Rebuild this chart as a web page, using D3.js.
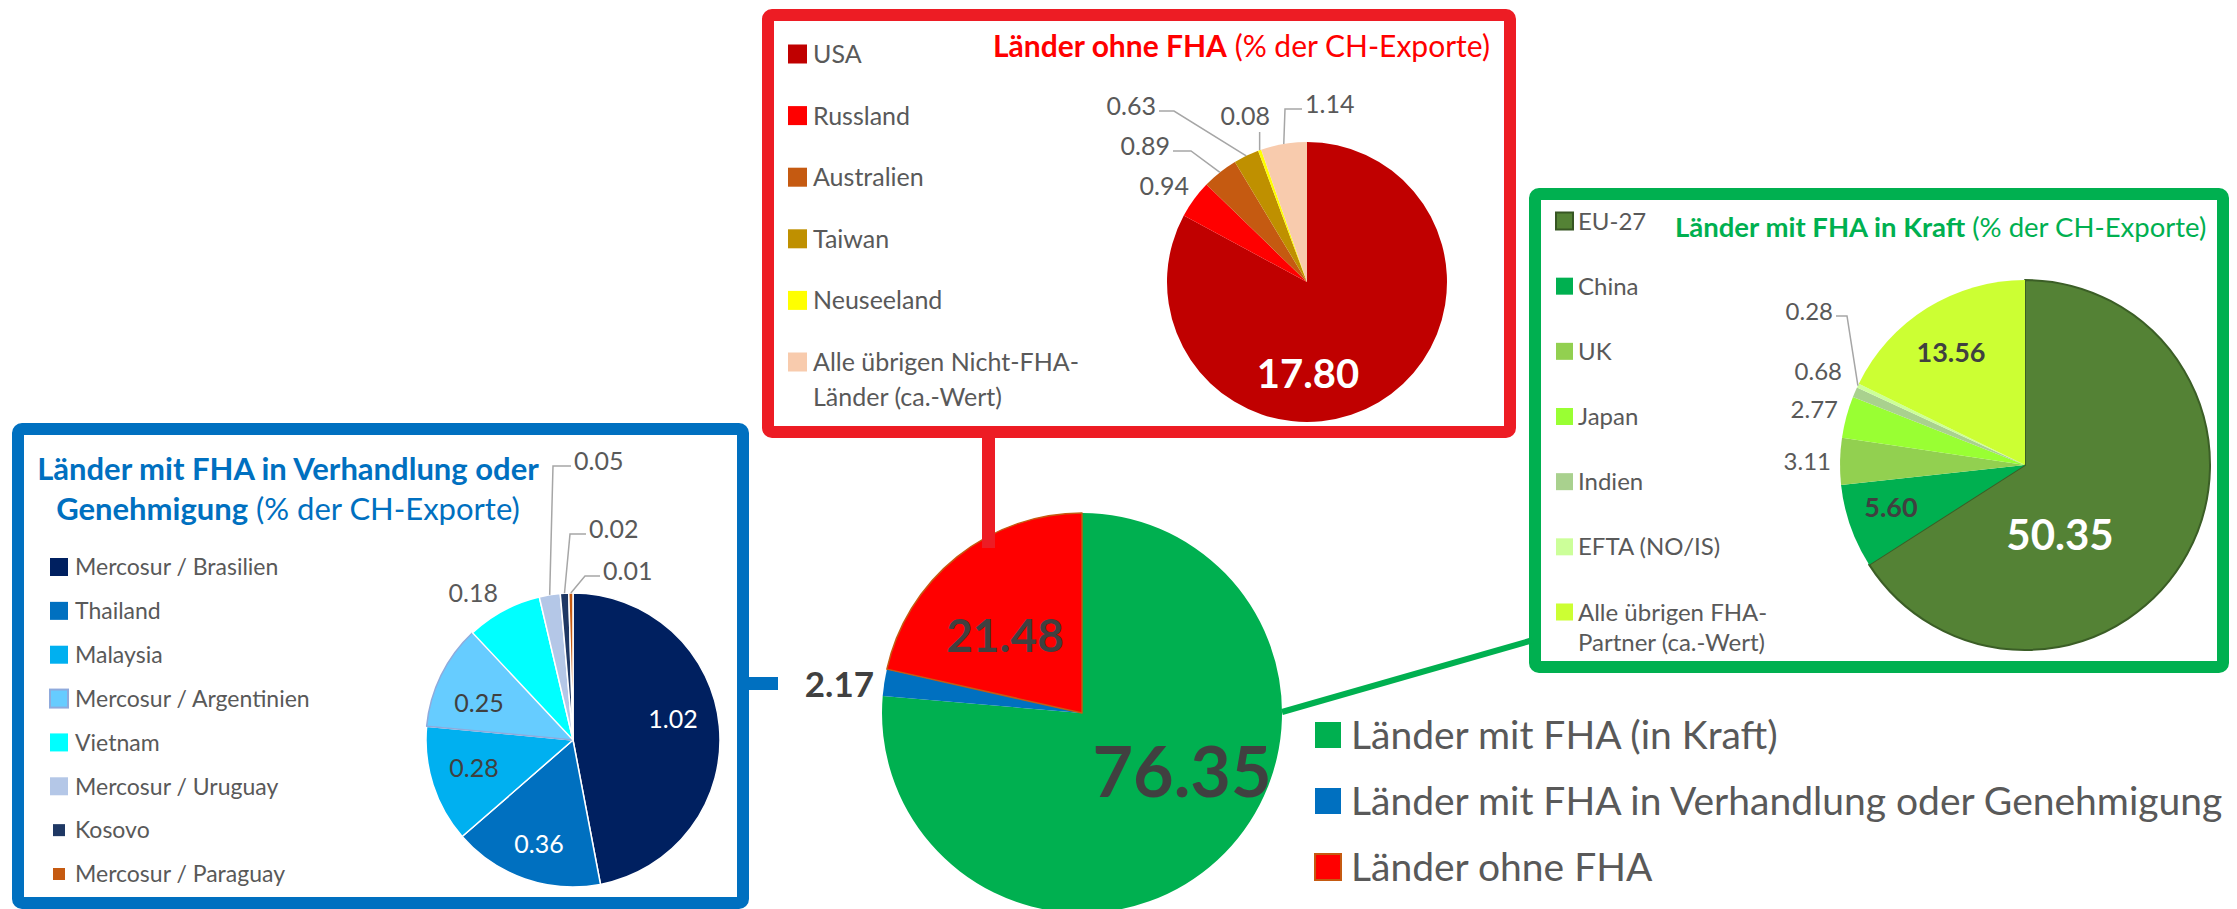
<!DOCTYPE html>
<html>
<head>
<meta charset="utf-8">
<script src="https://cdn.jsdelivr.net/npm/d3@7"></script>
<style>
  html, body { margin: 0; padding: 0; background: #fff; }
  svg { display: block; font-family: Lato, "Open Sans", sans-serif; }
</style>
</head>
<body>
<svg id="chart" width="2237" height="909"></svg>
<script>
// ---- data ----
var mainCats = ["Länder mit FHA (in Kraft)", "Länder mit FHA in Verhandlung oder Genehmigung", "Länder ohne FHA"];
var mainVals = [76.35, 2.17, 21.48];
var mainColors = ["#00B050", "#0070C0", "#FF0000"];

var ohneCats = ["USA", "Russland", "Australien", "Taiwan", "Neuseeland", "Alle übrigen Nicht-FHA-\nLänder (ca.-Wert)"];
var ohneVals = [17.80, 0.94, 0.89, 0.63, 0.08, 1.14];
var ohneColors = ["#C00000", "#FF0000", "#C55A11", "#BF9000", "#FFFF00", "#F8CBAD"];

var kraftCats = ["EU-27", "China", "UK", "Japan", "Indien", "EFTA (NO/IS)", "Alle übrigen FHA-\nPartner (ca.-Wert)"];
var kraftVals = [50.35, 5.60, 3.11, 2.77, 0.68, 0.28, 13.56];
var kraftColors = ["#548235", "#00B050", "#92D050", "#99FF33", "#A9D18E", "#CCFF99", "#CCFF33"];

var verhCats = ["Mercosur / Brasilien", "Thailand", "Malaysia", "Mercosur / Argentinien", "Vietnam", "Mercosur / Uruguay", "Kosovo", "Mercosur / Paraguay"];
var verhVals = [1.02, 0.36, 0.28, 0.25, 0.18, 0.05, 0.02, 0.01];
var verhColors = ["#002060", "#0070C0", "#00B0F0", "#66CCFF", "#00FFFF", "#B4C7E7", "#1F3864", "#C55A11"];

var svg = d3.select("#chart");
var fmt = d3.format(".2f");
var grey = "#595959", dark = "#404040";

svg.append("rect").attr("width", 2237).attr("height", 909).attr("fill", "#fff");

// ---- boxes ----
function box(x, y, w, h, col) {
    svg.append("rect").attr("x", x).attr("y", y).attr("width", w).attr("height", h)
        .attr("rx", 4).attr("fill", "#fff").attr("stroke", col).attr("stroke-width", 12);
}
box(768, 15, 742, 417, "#ED1C24");
box(1535, 194, 688, 473, "#00B050");
box(18, 429, 725, 474, "#0070C0");

// ---- pie helper ----
function drawPie(cfg) {
    var g = svg.append("g");
    var arcs = d3.pie().sort(null).value(function (d) { return d; })(cfg.values);
    var arc = d3.arc().innerRadius(0).outerRadius(cfg.r);
    g.selectAll("path").data(arcs).enter().append("path")
        .attr("transform", "translate(" + cfg.cx + "," + cfg.cy + ")")
        .attr("d", arc)
        .attr("fill", function (d, i) { return cfg.colors[i]; })
        .attr("stroke", function (d, i) { return (cfg.strokes && cfg.strokes[i]) || "none"; })
        .attr("stroke-width", cfg.strokeWidth || 1.5)
        .attr("stroke-linejoin", "round");

    arcs.forEach(function (a, i) {
        var s = cfg.labels[i];
        if (!s) return;
        var col = s.cls === "white" ? "#fff" : (s.cls === "dark" ? dark : grey);
        var t = g.append("text")
            .attr("x", cfg.cx + s.dx).attr("y", cfg.cy + s.dy)
            .attr("text-anchor", s.anchor || "middle")
            .attr("font-size", s.size || cfg.labelSize)
            .attr("font-weight", s.bold ? 700 : 400)
            .attr("fill", col)
            .text(fmt(a.data));
        if (!s.leader) return;
        // leader line from the label to the middle of the slice's outer edge
        var mid = (a.startAngle + a.endAngle) / 2;
        var px = cfg.cx + cfg.r * Math.sin(mid), py = cfg.cy - cfg.r * Math.cos(mid);
        var bb = t.node().getBBox();
        var pts;
        if (s.leader === "h") {
            var ly = cfg.cy + s.dy - 4;
            var sx = s.anchor === "end" ? bb.x + bb.width + 3 : bb.x - 3;
            pts = [[sx, ly], [cfg.cx + s.elbow, ly], [px, py]];
        } else {
            pts = [[px, bb.y + bb.height + 2], [px, py]];
        }
        g.append("path").attr("d", d3.line()(pts))
            .attr("fill", "none").attr("stroke", "#A6A6A6").attr("stroke-width", 1.5);
    });
}

// ---- legend helper ----
function drawLegend(cfg) {
    var y = d3.scalePoint().domain(cfg.cats).range(cfg.range);
    var g = svg.append("g");
    cfg.cats.forEach(function (c, i) {
        var sq = (cfg.sqSizes && cfg.sqSizes[i]) || cfg.sq;
        var cy = y(c);
        g.append("rect")
            .attr("x", cfg.x + (cfg.sq - sq) / 2).attr("y", cy - sq / 2)
            .attr("width", sq).attr("height", sq)
            .attr("fill", cfg.colors[i])
            .attr("stroke", (cfg.strokes && cfg.strokes[i]) || "none")
            .attr("stroke-width", 2);
        var lines = c.split("\n");
        var t = g.append("text").attr("x", cfg.x + cfg.sq + cfg.gap)
            .attr("y", cy + cfg.font * 0.36)
            .attr("font-size", cfg.font).attr("fill", grey);
        lines.forEach(function (l, k) {
            t.append("tspan").attr("x", cfg.x + cfg.sq + cfg.gap)
                .attr("dy", k ? cfg.lineGap : 0).text(l);
        });
    });
}

// ---- titles ----
function title(x, y, size, col, anchor, parts) {
    var t = svg.append("text").attr("x", x).attr("y", y).attr("font-size", size)
        .attr("fill", col).attr("text-anchor", anchor);
    parts.forEach(function (p) {
        t.append("tspan").attr("font-weight", p[1] ? 700 : 400).text(p[0]);
    });
}
title(993, 57, 30, "#FF0000", "start", [["Länder ohne FHA", 1], [" (% der CH-Exporte)", 0]]);
title(1675, 237, 27.5, "#00B050", "start", [["Länder mit FHA in Kraft", 1], [" (% der CH-Exporte)", 0]]);
title(288, 480, 31, "#0070C0", "middle", [["Länder mit FHA in Verhandlung oder", 1]]);
title(288, 520, 31, "#0070C0", "middle", [["Genehmigung", 1], [" (% der CH-Exporte)", 0]]);

// ---- main pie ----
drawPie({
    cx: 1082, cy: 713, r: 200, values: mainVals, colors: mainColors,
    strokes: [null, null, "#C55A11"], labelSize: 35,
    labels: [
        {dx: 100, dy: 84, size: 70, bold: 1, cls: "dark"},
        {dx: -208, dy: -16, anchor: "end", size: 35, bold: 1, cls: "dark"},
        {dx: -77, dy: -61, size: 46, bold: 1, cls: "dark"}
    ]
});

// ---- connectors ----
svg.append("line").attr("x1", 743).attr("y1", 683.5).attr("x2", 778).attr("y2", 683.5)
    .attr("stroke", "#0070C0").attr("stroke-width", 13);
svg.append("line").attr("x1", 988.5).attr("y1", 432).attr("x2", 988.5).attr("y2", 548)
    .attr("stroke", "#ED1C24").attr("stroke-width", 13);
svg.append("line").attr("x1", 1282).attr("y1", 712).attr("x2", 1533).attr("y2", 640)
    .attr("stroke", "#00B050").attr("stroke-width", 6);

// ---- sub pies ----
drawPie({
    cx: 1307, cy: 282, r: 140, values: ohneVals, colors: ohneColors, labelSize: 25,
    labels: [
        {dx: 1, dy: 106, size: 40, bold: 1, cls: "white"},
        {dx: -118, dy: -87, anchor: "end"},
        {dx: -137, dy: -127, anchor: "end", leader: "h", elbow: -116},
        {dx: -151, dy: -167, anchor: "end", leader: "h", elbow: -133},
        {dx: -37, dy: -157, anchor: "end", leader: "v"},
        {dx: -2, dy: -169, anchor: "start", leader: "h", elbow: -22}
    ]
});

drawPie({
    cx: 2025, cy: 465, r: 185, values: kraftVals, colors: kraftColors, labelSize: 24,
    strokes: ["#3B5E26"], strokeWidth: 2,
    labels: [
        {dx: 35, dy: 85, size: 42, bold: 1, cls: "white"},
        {dx: -134, dy: 52, size: 27, bold: 1, cls: "dark"},
        {dx: -194, dy: 5, anchor: "end"},
        {dx: -187, dy: -47, anchor: "end"},
        {dx: -183, dy: -85, anchor: "end"},
        {dx: -192, dy: -145, anchor: "end", leader: "h", elbow: -178},
        {dx: -74, dy: -103, size: 27, bold: 1, cls: "dark"}
    ]
});

drawPie({
    cx: 573, cy: 740, r: 147, values: verhVals, colors: verhColors, labelSize: 25,
    strokes: ["#fff", "#fff", "#fff", "#8FAADC", "#fff", "#fff", "#fff", "#fff"],
    labels: [
        {dx: 100, dy: -12, cls: "white"},
        {dx: -34, dy: 113, cls: "white"},
        {dx: -99, dy: 37, cls: "dark"},
        {dx: -94, dy: -28, cls: "dark"},
        {dx: -75, dy: -138, anchor: "end"},
        {dx: 1, dy: -270, anchor: "start", leader: "h", elbow: -20},
        {dx: 16, dy: -202, anchor: "start", leader: "h", elbow: -3},
        {dx: 30, dy: -160, anchor: "start", leader: "h", elbow: 12}
    ]
});

// ---- legends ----
drawLegend({cats: ohneCats, colors: ohneColors, x: 788, range: [54, 362], sq: 19, gap: 6, font: 25, lineGap: 35});
drawLegend({cats: kraftCats, colors: kraftColors, x: 1556, range: [221, 612], sq: 17, gap: 5, font: 24, lineGap: 30,
    strokes: ["#375623"]});
drawLegend({cats: verhCats, colors: verhColors, x: 50, range: [567, 874], sq: 18, gap: 7, font: 23, lineGap: 30,
    strokes: [null, null, null, "#8FAADC"], sqSizes: [0, 0, 0, 0, 0, 0, 12, 12]});
drawLegend({cats: mainCats, colors: mainColors, x: 1315, range: [735, 867], sq: 26, gap: 10, font: 39, lineGap: 40,
    strokes: [null, null, "#C55A11"]});
</script>
</body>
</html>
